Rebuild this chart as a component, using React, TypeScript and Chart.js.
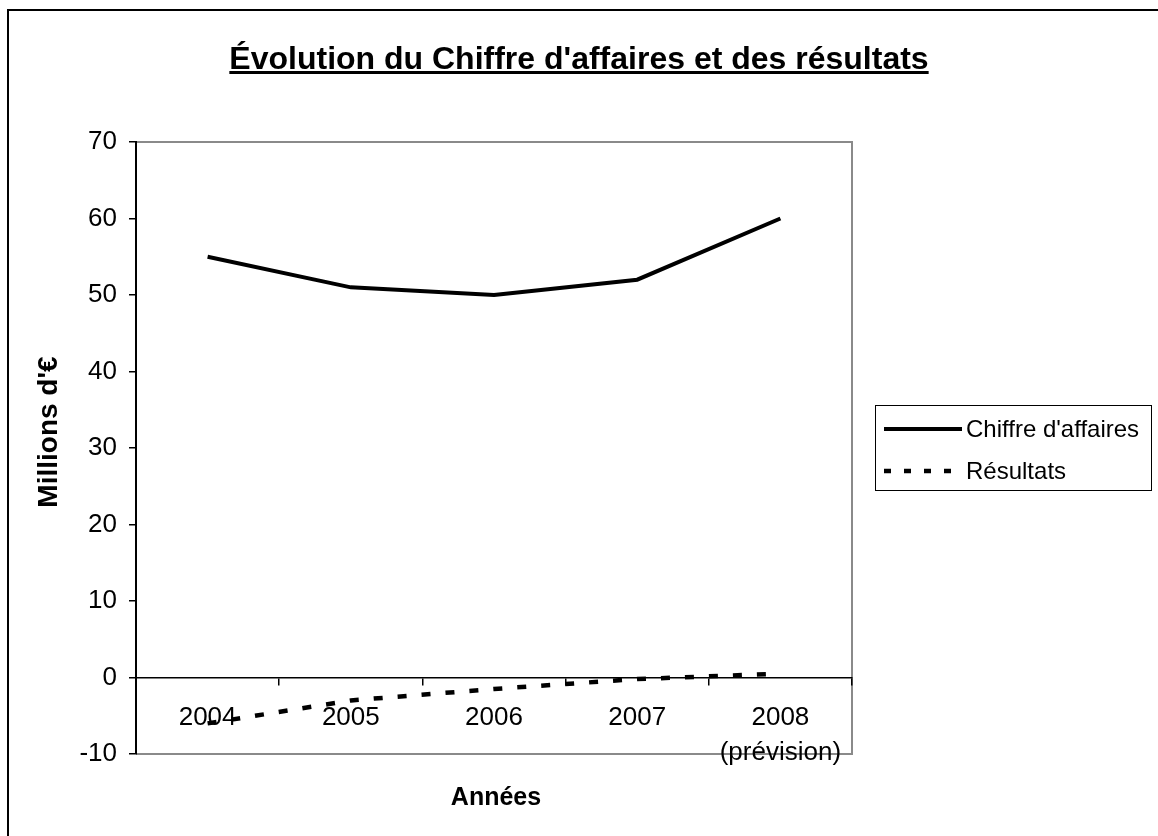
import React, { useEffect, useRef } from 'react';
import { Chart, registerables } from 'chart.js';

Chart.register(...registerables);

const years: (string | string[])[] = ['2004', '2005', '2006', '2007', ['2008', '(prévision)']];
const chiffreAffaires = [55, 51, 50, 52, 60];
const resultats = [-6, -3, -1.5, -0.2, 0.5];
const yMin = -10;
const yMax = 70;
const yStep = 10;
const chartTitle = "Évolution du Chiffre d'affaires et des résultats";
const xTitle = 'Années';
const yTitle = "Millions d'€";
const seriesNames = ["Chiffre d'affaires", 'Résultats'];

const FAMILY = "'Liberation Sans', Arial, sans-serif";

const decorPlugin = {
  id: 'decor',
  beforeDraw(chart: any) {
    const { ctx, chartArea: a } = chart;
    ctx.save();
    ctx.strokeStyle = '#8a8a8a';
    ctx.lineWidth = 2;
    ctx.beginPath();
    ctx.moveTo(a.left, a.top);
    ctx.lineTo(a.right, a.top);
    ctx.lineTo(a.right, a.bottom);
    ctx.lineTo(a.left, a.bottom);
    ctx.stroke();
    ctx.restore();
  },
  afterDraw(chart: any) {
    const { ctx } = chart;
    ctx.save();
    ctx.fillStyle = '#000';
    // axis titles
    ctx.font = `bold 25px ${FAMILY}`;
    ctx.textAlign = 'center';
    ctx.textBaseline = 'middle';
    ctx.fillText(xTitle, 496, 798);
    ctx.save();
    ctx.font = `bold 28px ${FAMILY}`;
    ctx.translate(49, 432);
    ctx.rotate(-Math.PI / 2);
    ctx.fillText(yTitle, 0, 0);
    ctx.restore();

    // legend
    const lx = 875, ly = 405, lw = 276, lh = 85;
    ctx.strokeStyle = '#000';
    ctx.lineWidth = 1;
    ctx.strokeRect(lx + 0.5, ly + 0.5, lw, lh);
    const rows = [429, 471];
    chart.data.datasets.forEach((ds: any, i: number) => {
      const y = rows[i];
      ctx.save();
      ctx.strokeStyle = ds.borderColor;
      ctx.lineWidth = ds.borderWidth;
      ctx.setLineDash(i === 1 ? [7, 13] : []);
      ctx.beginPath();
      ctx.moveTo(884, y);
      ctx.lineTo(962, y);
      ctx.stroke();
      ctx.restore();
      ctx.font = `24px ${FAMILY}`;
      ctx.textAlign = 'left';
      ctx.textBaseline = 'middle';
      ctx.fillStyle = '#000';
      ctx.fillText(ds.label, 966, y + 1);
    });
    ctx.restore();
  },
};

export default function App() {
  const ref = useRef<HTMLCanvasElement | null>(null);

  useEffect(() => {
    if (!ref.current) return;
    const chart = new Chart(ref.current, {
      type: 'line',
      data: {
        labels: years as any,
        datasets: [
          {
            label: seriesNames[0],
            data: chiffreAffaires,
            borderColor: '#000',
            borderWidth: 4,
            pointRadius: 0,
            tension: 0,
            fill: false,
          },
          {
            label: seriesNames[1],
            data: resultats,
            borderColor: '#000',
            borderWidth: 4.5,
            borderDash: [9, 15],
            borderCapStyle: 'butt',
            pointRadius: 0,
            tension: 0,
            fill: false,
          },
        ],
      },
      options: {
        responsive: false,
        animation: false,
        devicePixelRatio: 1,
        layout: { padding: { top: 142, right: 306, bottom: 82, left: 0 } },
        plugins: {
          legend: { display: false },
          title: { display: false },
          tooltip: { enabled: false },
        },
        scales: {
          x: {
            type: 'category',
            position: { y: 0 } as any,
            offset: true,
            grid: {
              offset: true,
              drawOnChartArea: false,
              drawTicks: true,
              tickLength: 7,
              color: '#000',
              lineWidth: 1.5,
            },
            border: { display: true, color: '#000', width: 1.5 },
            ticks: {
              color: '#000',
              font: { family: FAMILY, size: 26, lineHeight: 1.35 },
              padding: 16,
              maxRotation: 0,
              autoSkip: false,
            },
            afterFit(scale: any) {
              scale.height = 0;
            },
          },
          y: {
            min: yMin,
            max: yMax,
            grid: {
              drawOnChartArea: false,
              drawTicks: true,
              tickLength: 7,
              color: '#000',
              lineWidth: 1.5,
            },
            border: { display: true, color: '#000', width: 2 },
            ticks: {
              stepSize: yStep,
              color: '#000',
              font: { family: FAMILY, size: 26 },
              padding: 12,
            },
            afterFit(scale: any) {
              scale.width = 136;
            },
          },
        },
      },
      plugins: [decorPlugin],
    });
    return () => chart.destroy();
  }, []);

  return (
    <div
      style={{
        position: 'fixed',
        left: 0,
        top: 0,
        width: 1158,
        height: 836,
        overflow: 'hidden',
        background: '#fff',
      }}
    >
      <div
        style={{
          position: 'absolute',
          left: 7,
          top: 9,
          width: 1300,
          height: 1000,
          border: '2px solid #000',
          boxSizing: 'border-box',
        }}
      />
      <canvas
        ref={ref}
        width={1158}
        height={836}
        style={{ position: 'absolute', left: 0, top: 0, width: 1158, height: 836 }}
      />
      <div
        style={{
          position: 'absolute',
          left: 0,
          top: 42,
          width: 1158,
          textAlign: 'center',
          fontFamily: FAMILY,
          fontWeight: 'bold',
          fontSize: 32,
          lineHeight: '32px',
          textDecoration: 'underline',
          color: '#000',
          whiteSpace: 'nowrap',
        }}
      >
        {chartTitle}
      </div>
    </div>
  );
}
